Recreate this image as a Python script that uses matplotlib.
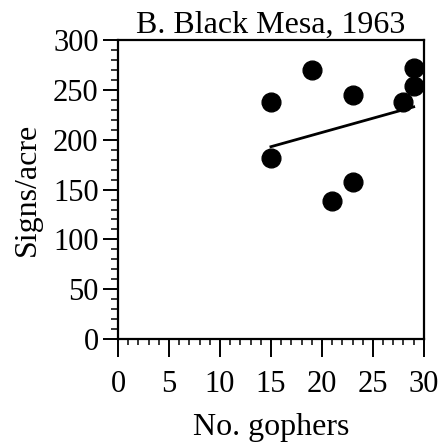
import matplotlib.pyplot as plt
from matplotlib.ticker import MultipleLocator

# gopher counts and sign densities
gophers = [15, 15, 19, 21, 23, 23, 28, 29, 29]
signs = [238, 182, 270, 139, 245, 158, 238, 272, 254]

# regression line endpoints
fit_x = [15, 29]
fit_y = [193, 233]

plt.rcParams['font.family'] = ['Liberation Serif', 'DejaVu Serif']

fig = plt.figure(figsize=(4.42, 4.45), dpi=100)
ax = fig.add_axes([0.267, 0.238, 0.692, 0.672])

ax.plot(gophers, signs, 'o', color='black', markersize=13.5, clip_on=False, zorder=3)
ax.plot(fit_x, fit_y, '-', color='black', linewidth=2)

ax.set_xlim(0, 30)
ax.set_ylim(0, 300)
ax.xaxis.set_major_locator(MultipleLocator(5))
ax.xaxis.set_minor_locator(MultipleLocator(1))
ax.yaxis.set_major_locator(MultipleLocator(50))
ax.yaxis.set_minor_locator(MultipleLocator(10))

for s in ax.spines.values():
    s.set_linewidth(1.6)

ax.tick_params(axis='y', which='major', direction='out', length=11, width=1.4,
               labelsize=22, pad=3)
ax.tick_params(axis='y', which='minor', direction='out', length=5, width=1.1)
ax.tick_params(axis='x', which='major', direction='out', length=13, width=1.4,
               labelsize=22, pad=9)
ax.tick_params(axis='x', which='minor', direction='out', length=4, width=1.1)

ax.set_xlabel('No. gophers', fontsize=23, labelpad=10)
ax.set_ylabel('Signs/acre', fontsize=23, labelpad=8)
ax.set_title('B. Black Mesa, 1963', fontsize=23, pad=2)

fig.savefig('out.png', dpi=100)
